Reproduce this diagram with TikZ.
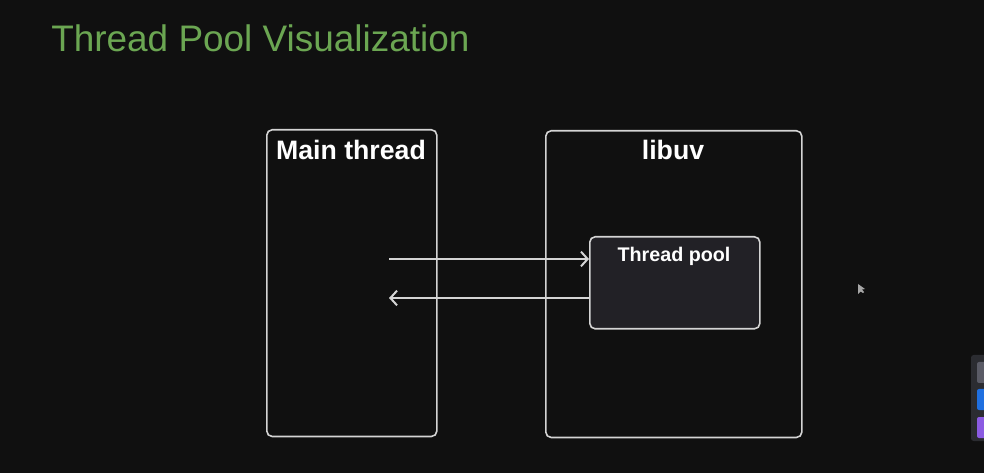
\documentclass[tikz,border=0pt]{standalone}
\usepackage{fontspec}
\setmainfont{Liberation Sans}
\usetikzlibrary{arrows.meta}
\definecolor{bgdark}{HTML}{101010}
\definecolor{titlegreen}{HTML}{6BA652}
\definecolor{edgegray}{HTML}{D4D4D4}
\definecolor{poolfill}{HTML}{222126}
\definecolor{dockgray}{HTML}{2B2C31}
\definecolor{btngray}{HTML}{5A5B66}
\definecolor{btnblue}{HTML}{1F6FE0}
\definecolor{btnpurple}{HTML}{8B5BE2}
\begin{document}
\begin{tikzpicture}[x=0.75pt,y=-0.75pt,
  box/.style={draw=edgegray,line width=1.2pt,rounded corners=4pt,inner sep=0pt,anchor=north west},
  boxlabel/.style={text=white,font=\fontsize{20pt}{24pt}\selectfont\bfseries,inner sep=0pt},
  poollabel/.style={text=white,font=\fontsize{14.8pt}{18pt}\selectfont\bfseries,inner sep=0pt},
  flow/.style={draw=edgegray,line width=1.5pt,-{Straight Barb[length=5pt,width=11pt,line width=1.5pt]}}]
  % page background
  \fill[bgdark] (0,0) rectangle (984,473);
  \useasboundingbox (0,0) rectangle (984,473);

  % heading
  \node[anchor=base west,inner sep=0pt,text=titlegreen,font=\fontsize{27.7pt}{32pt}\selectfont] (title) at (51,52) {Thread Pool Visualization};

  % main thread column
  \node[box,minimum width=127.5pt,minimum height=230pt] (main) at (266,129) {};
  \node[boxlabel,anchor=base] (mainlbl) at (351,160) {Main thread};

  % libuv column
  \node[box,minimum width=192pt,minimum height=230pt] (libuv) at (545,130) {};
  \node[boxlabel,anchor=base] (libuvlbl) at (673,160) {libuv};

  % thread pool inside libuv
  \node[box,fill=poolfill,minimum width=127.5pt,minimum height=69pt] (pool) at (589,236) {};
  \node[poollabel,anchor=base] (poollbl) at (674,262) {Thread pool};

  % arrow ends inside the main thread column
  \coordinate (outgo) at (389,259);
  \coordinate (back) at (389,298);

  % request and callback
  \draw[flow] (outgo) -- (outgo -| pool.west);
  \draw[flow] (back -| pool.west) -- (back);

  % pointer
  \fill[gray!70] (858,284) -- (858,294) -- (860.5,291.5) -- (863,293) -- (864,292) -- (862,289.5) -- (865,289) -- cycle;

  % side dock
  \fill[dockgray,rounded corners=2pt] (971,355) rectangle (990,441);
  \fill[btngray,rounded corners=1.5pt] (977,362) rectangle (990,383);
  \fill[btnblue,rounded corners=1.5pt] (977,389) rectangle (990,410);
  \fill[btnpurple,rounded corners=1.5pt] (977,417) rectangle (990,438);
\end{tikzpicture}
\end{document}
